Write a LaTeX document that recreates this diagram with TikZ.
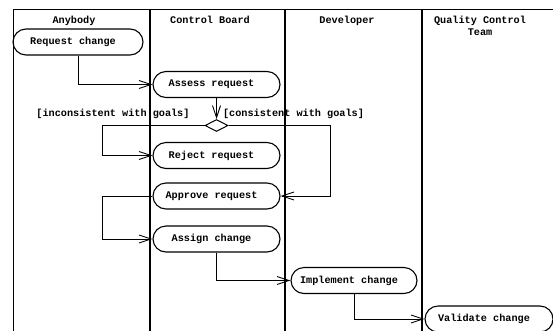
\documentclass[tikz,border=0pt]{standalone}
\usepackage{fontspec}
\setmainfont{Liberation Mono}
\usetikzlibrary{arrows.meta,shapes.geometric}
\tikzset{
  act/.style={draw, line width=1.1pt, rectangle, rounded corners=13pt,
    minimum height=26pt, minimum width=127pt, inner sep=0pt,
    font=\fontsize{10.2}{12}\selectfont\bfseries,
    execute at begin node={\hspace*{-10pt}}},
  dec/.style={draw, line width=1pt, diamond, minimum width=23pt, minimum height=12pt, inner sep=0pt},
  flow/.style={draw, line width=0.9pt, -{Straight Barb[length=12pt,width=8pt,line width=0.9pt]}},
  lane/.style={line width=1.5pt},
  hdr/.style={font=\fontsize{10.2}{12}\selectfont\bfseries, align=center, anchor=north, inner sep=0pt},
  guard/.style={font=\fontsize{10.2}{12}\selectfont\bfseries, inner sep=0pt}
}
\begin{document}
\begin{tikzpicture}[x=1pt,y=-1pt]
\useasboundingbox (0,0) rectangle (553,330);
% swimlanes
\draw[line width=1pt] (13,9) -- (553,9);
\draw[lane] (13.5,9) -- (13.5,332);
\draw[lane] (150,9) -- (150,332);
\draw[lane] (285,9) -- (285,332);
\draw[lane] (422,9) -- (422,332);
\node[hdr] (h1) at (74,15.5) {Anybody};
\node[hdr] (h2) at (210,15.5) {Control Board};
\node[hdr] (h3) at (347,15.5) {Developer};
\node[hdr] (h4) at (480,15.5) {Quality Control\\Team};
% activities
\node[act, minimum width=130pt] (req) at (78,42) {Request change};
\node[act] (assess) at (216.5,84.5) {Assess request};
\node[dec] (dia) at (216.5,125.5) {};
\node[act] (reject) at (216.5,155.5) {Reject request};
\node[act] (approve) at (216.5,196) {Approve request};
\node[act] (assign) at (216.5,239) {Assign change};
\node[act, minimum width=126pt] (impl) at (354,280.5) {Implement change};
\node[act, minimum width=128pt] (valid) at (489,319) {Validate change};
% guards
\node[guard] (g1) at (113,114) {[inconsistent with goals]};
\node[guard] (g2) at (293.5,114) {[consistent with goals]};
% flows
\draw[flow] (req) |- (assess);
\draw[flow] (assess) -- (dia);
\draw[flow] (dia.west) -| ([xshift=-50pt]reject.west) |- (reject.west);
\draw[flow] (dia.east) -| ([xshift=50pt]approve.east) |- (approve.east);
\draw[flow] (approve.west) -| ([xshift=-50pt]assign.west) |- (assign.west);
\draw[flow] (assign) |- (impl);
\draw[flow] (impl) |- (valid);
\end{tikzpicture}
\end{document}
